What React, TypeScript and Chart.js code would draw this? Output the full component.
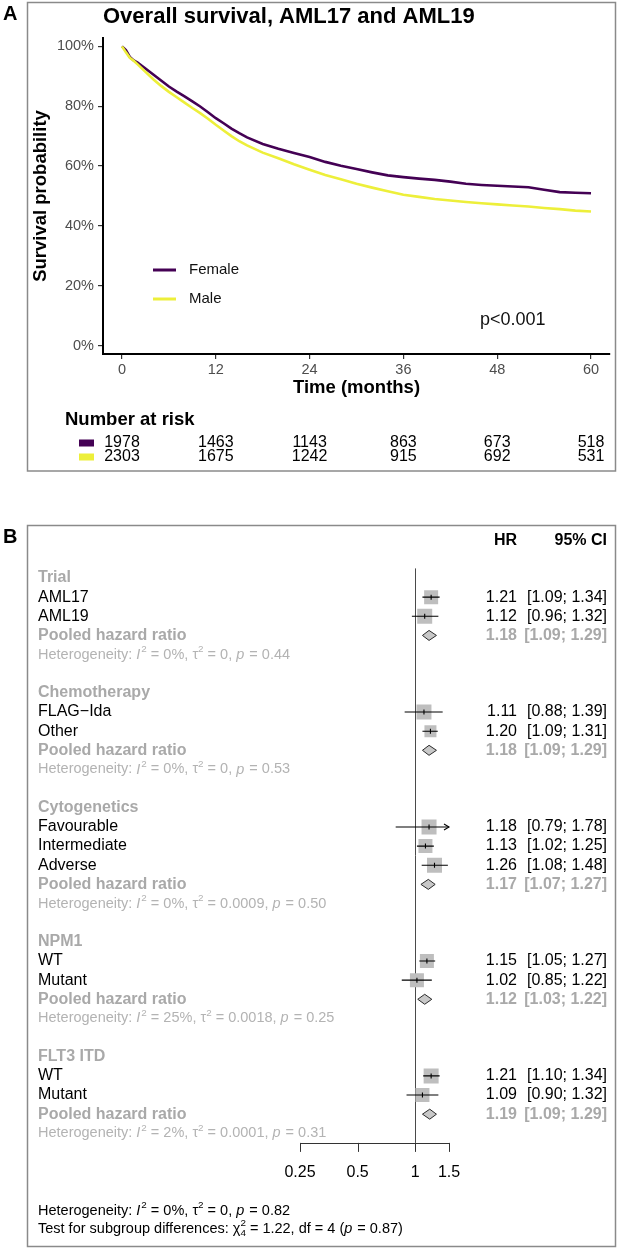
import React, { useEffect, useRef } from 'react';
import { Chart, registerables } from 'chart.js';

Chart.register(...registerables);

const FONT = '"Liberation Sans", Arial, Helvetica, sans-serif';

// ---------- Panel A: overall survival by sex ----------
const panelTitle = 'Overall survival, AML17 and AML19';
const xTitle = 'Time (months)';
const yTitle = 'Survival probability';
const groupLabels = ['Female', 'Male'];
const groupColors = ['#440154', '#EDEF3A'];
const pValueLabel = 'p<0.001';

const months = [0, 0.5, 1, 1.5, 2, 3, 4, 5, 6, 7, 8, 9, 10, 11, 12, 13, 14, 15, 16, 18, 20, 22, 24, 26, 28, 30, 32, 34, 36, 38, 40, 42, 44, 46, 48, 50, 52, 54, 56, 58, 60];
const survivalFemale = [100, 98.8, 96.5, 95.3, 94.6, 92.6, 90.6, 88.6, 86.6, 84.9, 83.3, 81.6, 79.9, 78.0, 76.0, 74.3, 72.5, 71.0, 69.6, 67.4, 65.8, 64.4, 63.0, 61.4, 60.1, 59.0, 57.9, 56.9, 56.3, 55.8, 55.4, 54.8, 54.1, 53.7, 53.4, 53.2, 52.9, 52.1, 51.3, 51.1, 50.9];
const survivalMale = [100, 98.0, 96.2, 95.2, 94.0, 91.5, 89.0, 86.8, 84.8, 83.0, 81.2, 79.4, 77.7, 75.8, 73.8, 71.9, 70.0, 68.3, 66.9, 64.5, 62.6, 60.6, 58.8, 57.0, 55.6, 54.1, 52.8, 51.6, 50.4, 49.7, 49.0, 48.5, 48.0, 47.6, 47.2, 46.8, 46.5, 46.0, 45.6, 45.1, 44.8];

const timeTicks = [0, 12, 24, 36, 48, 60];
const survivalTicks = [0, 20, 40, 60, 80, 100];
const atRiskFemale = [1978, 1463, 1143, 863, 673, 518];
const atRiskMale = [2303, 1675, 1242, 915, 692, 531];

// ---------- Panel B: subgroup hazard ratios ----------
const subgroupTitles = ['Trial', 'Chemotherapy', 'Cytogenetics', 'NPM1', 'FLT3 ITD'];
const subgroupLevels = [
  ['AML17', 'AML19'],
  ['FLAG\u2212Ida', 'Other'],
  ['Favourable', 'Intermediate', 'Adverse'],
  ['WT', 'Mutant'],
  ['WT', 'Mutant'],
];
const levelHR = [[1.21, 1.12], [1.11, 1.2], [1.18, 1.13, 1.26], [1.15, 1.02], [1.21, 1.09]];
const levelLower = [[1.09, 0.96], [0.88, 1.09], [0.79, 1.02, 1.08], [1.05, 0.85], [1.1, 0.9]];
const levelUpper = [[1.34, 1.32], [1.39, 1.31], [1.78, 1.25, 1.48], [1.27, 1.22], [1.34, 1.32]];
const pooledHR = [1.18, 1.18, 1.17, 1.12, 1.19];
const pooledLower = [1.09, 1.09, 1.07, 1.03, 1.09];
const pooledUpper = [1.29, 1.29, 1.27, 1.22, 1.29];
const hetI2 = ['0%', '0%', '0%', '25%', '2%'];
const hetTau2 = ['0', '0', '0.0009', '0.0018', '0.0001'];
const hetP = ['0.44', '0.53', '0.50', '0.25', '0.31'];
const hrTicks = [0.25, 0.5, 1, 1.5];
const hrMin = 0.25;
const hrMax = 1.5;
const overallI2 = '0%';
const overallTau2 = '0';
const overallP = '0.82';
const testChi2 = '1.22';
const testDf = '4';
const testP = '0.87';

// marker side lengths (px) for the study squares
const squareSides = [[14, 15], [15, 12], [15, 14, 15], [14, 14], [15, 14]];

type Row = {
  kind: 'title' | 'level' | 'pooled' | 'het';
  index: number;
  group: number;
  label?: string;
  hr?: number;
  lo?: number;
  hi?: number;
  side?: number;
};

function buildRows(): Row[] {
  const rows: Row[] = [];
  let r = 0;
  subgroupTitles.forEach((title, g) => {
    rows.push({ kind: 'title', index: r, group: g, label: title });
    subgroupLevels[g].forEach((lab, k) => {
      rows.push({
        kind: 'level', index: r + 1 + k, group: g, label: lab,
        hr: levelHR[g][k], lo: levelLower[g][k], hi: levelUpper[g][k], side: squareSides[g][k],
      });
    });
    const n = subgroupLevels[g].length;
    rows.push({ kind: 'pooled', index: r + 1 + n, group: g, label: 'Pooled hazard ratio', hr: pooledHR[g], lo: pooledLower[g], hi: pooledUpper[g] });
    rows.push({ kind: 'het', index: r + 2 + n, group: g });
    r += n + 4;
  });
  return rows;
}

const forestRows = buildRows();
const lastRow = forestRows[forestRows.length - 1].index;

type Seg = { t: string; it?: boolean; sup?: string; sub?: string };

function drawRich(ctx: CanvasRenderingContext2D, x: number, y: number, segs: Seg[], size: number) {
  let cx = x;
  ctx.textAlign = 'left';
  ctx.textBaseline = 'middle';
  for (const s of segs) {
    if (s.sup !== undefined || s.sub !== undefined) {
      ctx.font = `${size * 0.68}px ${FONT}`;
      let w = 0;
      if (s.sup) {
        ctx.fillText(s.sup, cx, y - size * 0.36);
        w = Math.max(w, ctx.measureText(s.sup).width);
      }
      if (s.sub) {
        ctx.fillText(s.sub, cx, y + size * 0.32);
        w = Math.max(w, ctx.measureText(s.sub).width);
      }
      cx += w;
    } else {
      ctx.font = `${s.it ? 'italic ' : ''}${size}px ${FONT}`;
      ctx.fillText(s.t, cx, y);
      cx += ctx.measureText(s.t).width + (s.it ? 1 : 0);
    }
  }
}

const hetSegs = (i2: string, tau2: string, p: string): Seg[] => [
  { t: 'Heterogeneity: ' },
  { t: 'I', it: true },
  { t: '', sup: '2' },
  { t: ` = ${i2}, \u03C4` },
  { t: '', sup: '2' },
  { t: ` = ${tau2}, ` },
  { t: 'p', it: true },
  { t: ` = ${p}` },
];

const survivalDecor = {
  id: 'survivalDecor',
  beforeDraw(chart: any) {
    const { ctx } = chart;
    ctx.save();
    ctx.fillStyle = '#ffffff';
    ctx.fillRect(0, 0, chart.width, chart.height);
    ctx.strokeStyle = '#8a8a8a';
    ctx.lineWidth = 1.5;
    ctx.strokeRect(27.5, 2.5, 588, 468.5);
    ctx.restore();
  },
  afterDraw(chart: any) {
    const { ctx, chartArea: a, scales } = chart;
    const xs = scales.x;
    ctx.save();
    ctx.textBaseline = 'middle';
    ctx.fillStyle = '#000';
    ctx.textAlign = 'left';
    ctx.font = `bold 20px ${FONT}`;
    ctx.fillText('A', 3, 14);
    ctx.font = `bold 22px ${FONT}`;
    ctx.fillText(panelTitle, a.left, 17);

    ctx.font = `bold 18.5px ${FONT}`;
    ctx.textAlign = 'center';
    ctx.fillText(xTitle, (a.left + a.right) / 2, 388);
    ctx.save();
    ctx.translate(41, (a.top + a.bottom) / 2);
    ctx.rotate(-Math.PI / 2);
    ctx.fillText(yTitle, 0, 0);
    ctx.restore();

    // legend inside the plot
    const legendY = [270, 299];
    groupLabels.forEach((lab, i) => {
      ctx.strokeStyle = groupColors[i];
      ctx.lineWidth = 3;
      ctx.beginPath();
      ctx.moveTo(153, legendY[i]);
      ctx.lineTo(176, legendY[i]);
      ctx.stroke();
      ctx.fillStyle = '#111';
      ctx.font = `15px ${FONT}`;
      ctx.textAlign = 'left';
      ctx.fillText(lab, 189, legendY[i]);
    });

    ctx.font = `18px ${FONT}`;
    ctx.fillStyle = '#111';
    ctx.fillText(pValueLabel, 480, 320);

    // number at risk table
    ctx.font = `bold 18.5px ${FONT}`;
    ctx.fillStyle = '#000';
    ctx.fillText('Number at risk', 65, 420);
    const rowsY = [443, 457];
    [atRiskFemale, atRiskMale].forEach((vals, i) => {
      ctx.fillStyle = groupColors[i];
      ctx.fillRect(79, rowsY[i] - 3.5, 15, 7);
      ctx.fillStyle = '#000';
      ctx.font = `16px ${FONT}`;
      ctx.textAlign = 'center';
      vals.forEach((v, k) => {
        ctx.fillText(String(v), xs.getPixelForValue(timeTicks[k]), rowsY[i]);
      });
      ctx.textAlign = 'left';
    });
    ctx.restore();
  },
};

const forestDecor = {
  id: 'forestDecor',
  beforeDraw(chart: any) {
    const { ctx } = chart;
    ctx.save();
    ctx.fillStyle = '#ffffff';
    ctx.fillRect(0, 0, chart.width, chart.height);
    ctx.strokeStyle = '#8a8a8a';
    ctx.lineWidth = 1.5;
    ctx.strokeRect(27.5, 25.5, 588, 721);
    ctx.restore();
  },
  beforeDatasetsDraw(chart: any) {
    const { ctx, chartArea: a, scales } = chart;
    const px = scales.x.getPixelForValue(1);
    ctx.save();
    ctx.strokeStyle = '#4a4a4a';
    ctx.lineWidth = 1;
    ctx.beginPath();
    ctx.moveTo(Math.round(px) + 0.5, a.top);
    ctx.lineTo(Math.round(px) + 0.5, a.bottom);
    ctx.stroke();
    ctx.restore();
  },
  afterDatasetsDraw(chart: any) {
    const { ctx, scales } = chart;
    const xs = scales.x;
    const ys = scales.y;
    const xMax = xs.getPixelForValue(hrMax);
    const xMin = xs.getPixelForValue(hrMin);
    ctx.save();
    forestRows.forEach((row) => {
      if (row.kind !== 'level' && row.kind !== 'pooled') return;
      const py = ys.getPixelForValue(row.index);
      const x0 = xs.getPixelForValue(Math.max(row.lo!, hrMin));
      const x1 = xs.getPixelForValue(Math.min(row.hi!, hrMax));
      const xe = xs.getPixelForValue(row.hr!);
      if (row.kind === 'level') {
        ctx.strokeStyle = '#000';
        ctx.lineWidth = 1.1;
        ctx.beginPath();
        ctx.moveTo(x0, py);
        ctx.lineTo(x1, py);
        ctx.moveTo(xe, py - 2.5);
        ctx.lineTo(xe, py + 2.5);
        ctx.stroke();
        if (row.hi! > hrMax) {
          ctx.beginPath();
          ctx.moveTo(xMax - 5, py - 3);
          ctx.lineTo(xMax, py);
          ctx.lineTo(xMax - 5, py + 3);
          ctx.stroke();
        }
        if (row.lo! < hrMin) {
          ctx.beginPath();
          ctx.moveTo(xMin + 5, py - 3);
          ctx.lineTo(xMin, py);
          ctx.lineTo(xMin + 5, py + 3);
          ctx.stroke();
        }
      } else {
        ctx.fillStyle = '#C8C8C8';
        ctx.strokeStyle = '#2b2b2b';
        ctx.lineWidth = 1;
        ctx.beginPath();
        ctx.moveTo(x0, py);
        ctx.lineTo(xe, py - 5);
        ctx.lineTo(x1, py);
        ctx.lineTo(xe, py + 5);
        ctx.closePath();
        ctx.fill();
        ctx.stroke();
      }
    });
    ctx.restore();
  },
  afterDraw(chart: any) {
    const { ctx, chartArea: a, scales } = chart;
    const xs = scales.x;
    const ys = scales.y;
    const LABEL_X = 38;
    const HR_RIGHT = 517;
    const CI_RIGHT = 607;
    const grey = '#a9a9a9';
    const lightGrey = '#b3b3b3';
    ctx.save();
    ctx.textBaseline = 'middle';
    ctx.fillStyle = '#000';
    ctx.textAlign = 'left';
    ctx.font = `bold 20px ${FONT}`;
    ctx.fillText('B', 3, 37);

    ctx.font = `bold 16px ${FONT}`;
    ctx.textAlign = 'right';
    ctx.fillText('HR', HR_RIGHT, 41);
    ctx.fillText('95% CI', CI_RIGHT, 41);

    forestRows.forEach((row) => {
      const py = ys.getPixelForValue(row.index);
      ctx.textAlign = 'left';
      if (row.kind === 'title') {
        ctx.fillStyle = grey;
        ctx.font = `bold 16px ${FONT}`;
        ctx.fillText(row.label!, LABEL_X, py);
      } else if (row.kind === 'het') {
        ctx.fillStyle = lightGrey;
        drawRich(ctx, LABEL_X, py, hetSegs(hetI2[row.group], hetTau2[row.group], hetP[row.group]), 14.5);
      } else {
        const pooled = row.kind === 'pooled';
        ctx.fillStyle = pooled ? grey : '#000';
        ctx.font = `${pooled ? 'bold ' : ''}16px ${FONT}`;
        ctx.fillText(row.label!, LABEL_X, py);
        ctx.textAlign = 'right';
        ctx.fillText(row.hr!.toFixed(2), HR_RIGHT, py);
        ctx.fillText(`[${row.lo!.toFixed(2)}; ${row.hi!.toFixed(2)}]`, CI_RIGHT, py);
      }
    });

    // hazard ratio axis
    const yb = a.bottom;
    ctx.strokeStyle = '#333';
    ctx.lineWidth = 1;
    ctx.beginPath();
    ctx.moveTo(xs.getPixelForValue(hrTicks[0]), Math.round(yb) + 0.5);
    ctx.lineTo(xs.getPixelForValue(hrTicks[hrTicks.length - 1]), Math.round(yb) + 0.5);
    hrTicks.forEach((t) => {
      const px = Math.round(xs.getPixelForValue(t)) + 0.5;
      ctx.moveTo(px, yb);
      ctx.lineTo(px, yb + 9);
    });
    ctx.stroke();
    ctx.fillStyle = '#000';
    ctx.font = `16px ${FONT}`;
    ctx.textAlign = 'center';
    hrTicks.forEach((t) => {
      ctx.fillText(String(t), xs.getPixelForValue(t), yb + 30);
    });

    // overall heterogeneity and subgroup test
    ctx.fillStyle = '#000';
    drawRich(ctx, LABEL_X, 711, hetSegs(overallI2, overallTau2, overallP), 14.5);
    drawRich(ctx, LABEL_X, 729, [
      { t: 'Test for subgroup differences: ' },
      { t: '\u03C7' },
      { t: '', sup: '2', sub: testDf },
      { t: ` = ${testChi2}, df = ${testDf} (` },
      { t: 'p', it: true },
      { t: ` = ${testP})` },
    ], 14.5);
    ctx.restore();
  },
};

function SurvivalChart() {
  const ref = useRef<HTMLCanvasElement | null>(null);
  useEffect(() => {
    const canvas = ref.current;
    if (!canvas) return;
    const tickFont = { family: FONT, size: 14.5 };
    const chart = new Chart(canvas, {
      type: 'line',
      data: {
        datasets: [
          {
            label: groupLabels[0],
            data: months.map((m, i) => ({ x: m, y: survivalFemale[i] })),
            borderColor: groupColors[0],
            borderWidth: 2.6,
            pointRadius: 0,
            tension: 0,
            order: 1,
          },
          {
            label: groupLabels[1],
            data: months.map((m, i) => ({ x: m, y: survivalMale[i] })),
            borderColor: groupColors[1],
            borderWidth: 2.6,
            pointRadius: 0,
            tension: 0,
            order: 0,
          },
        ],
      },
      options: {
        responsive: false,
        animation: false,
        devicePixelRatio: 1,
        events: [],
        layout: { padding: { top: 38, right: 8, bottom: 116, left: 0 } },
        scales: {
          x: {
            type: 'linear',
            min: -2.43,
            max: 62.43,
            afterFit: (s: any) => { s.height = 30; },
            afterBuildTicks: (s: any) => { s.ticks = timeTicks.map((v) => ({ value: v })); },
            grid: { display: true, drawOnChartArea: false, drawTicks: true, tickLength: 5, color: '#333', lineWidth: 1.2 },
            border: { display: true, color: '#000', width: 2 },
            ticks: { font: tickFont, color: '#4d4d4d', padding: 2, maxRotation: 0, autoSkip: false },
          },
          y: {
            type: 'linear',
            min: -2.8,
            max: 102.8,
            afterFit: (s: any) => { s.width = 103; },
            afterBuildTicks: (s: any) => { s.ticks = survivalTicks.map((v) => ({ value: v })); },
            grid: { display: true, drawOnChartArea: false, drawTicks: true, tickLength: 5, color: '#333', lineWidth: 1.2 },
            border: { display: true, color: '#000', width: 2 },
            ticks: { font: tickFont, color: '#4d4d4d', padding: 4, callback: (v: any) => `${v}%` },
          },
        },
        plugins: { legend: { display: false }, tooltip: { enabled: false }, title: { display: false } },
      } as any,
      plugins: [survivalDecor],
    });
    return () => chart.destroy();
  }, []);
  return <canvas ref={ref} width={618} height={500} style={{ display: 'block', width: 618, height: 500 }} />;
}

function ForestChart() {
  const ref = useRef<HTMLCanvasElement | null>(null);
  useEffect(() => {
    const canvas = ref.current;
    if (!canvas) return;
    const levels = forestRows.filter((r) => r.kind === 'level');
    const chart = new Chart(canvas, {
      type: 'scatter',
      data: {
        datasets: [
          {
            label: 'Hazard ratio',
            data: levels.map((r) => ({ x: r.hr!, y: r.index })),
            pointStyle: 'rect',
            pointRadius: levels.map((r) => r.side! / Math.SQRT2),
            pointBackgroundColor: '#BEBEBE',
            backgroundColor: '#BEBEBE',
            pointBorderWidth: 0,
            borderWidth: 0,
          },
        ],
      },
      options: {
        responsive: false,
        animation: false,
        devicePixelRatio: 1,
        events: [],
        layout: { padding: { top: 68.4, right: 169, bottom: 106.1, left: 300 } },
        scales: {
          x: { type: 'logarithmic', min: hrMin, max: hrMax, display: false },
          y: { type: 'linear', min: -0.5, max: lastRow + 0.5, reverse: true, display: false },
        },
        plugins: { legend: { display: false }, tooltip: { enabled: false }, title: { display: false } },
      } as any,
      plugins: [forestDecor],
    });
    return () => chart.destroy();
  }, []);
  return <canvas ref={ref} width={618} height={749} style={{ display: 'block', width: 618, height: 749 }} />;
}

export default function App() {
  return (
    <div style={{ position: 'absolute', left: 0, top: 0, width: 618, height: 1249, background: '#fff' }}>
      <SurvivalChart />
      <ForestChart />
    </div>
  );
}
